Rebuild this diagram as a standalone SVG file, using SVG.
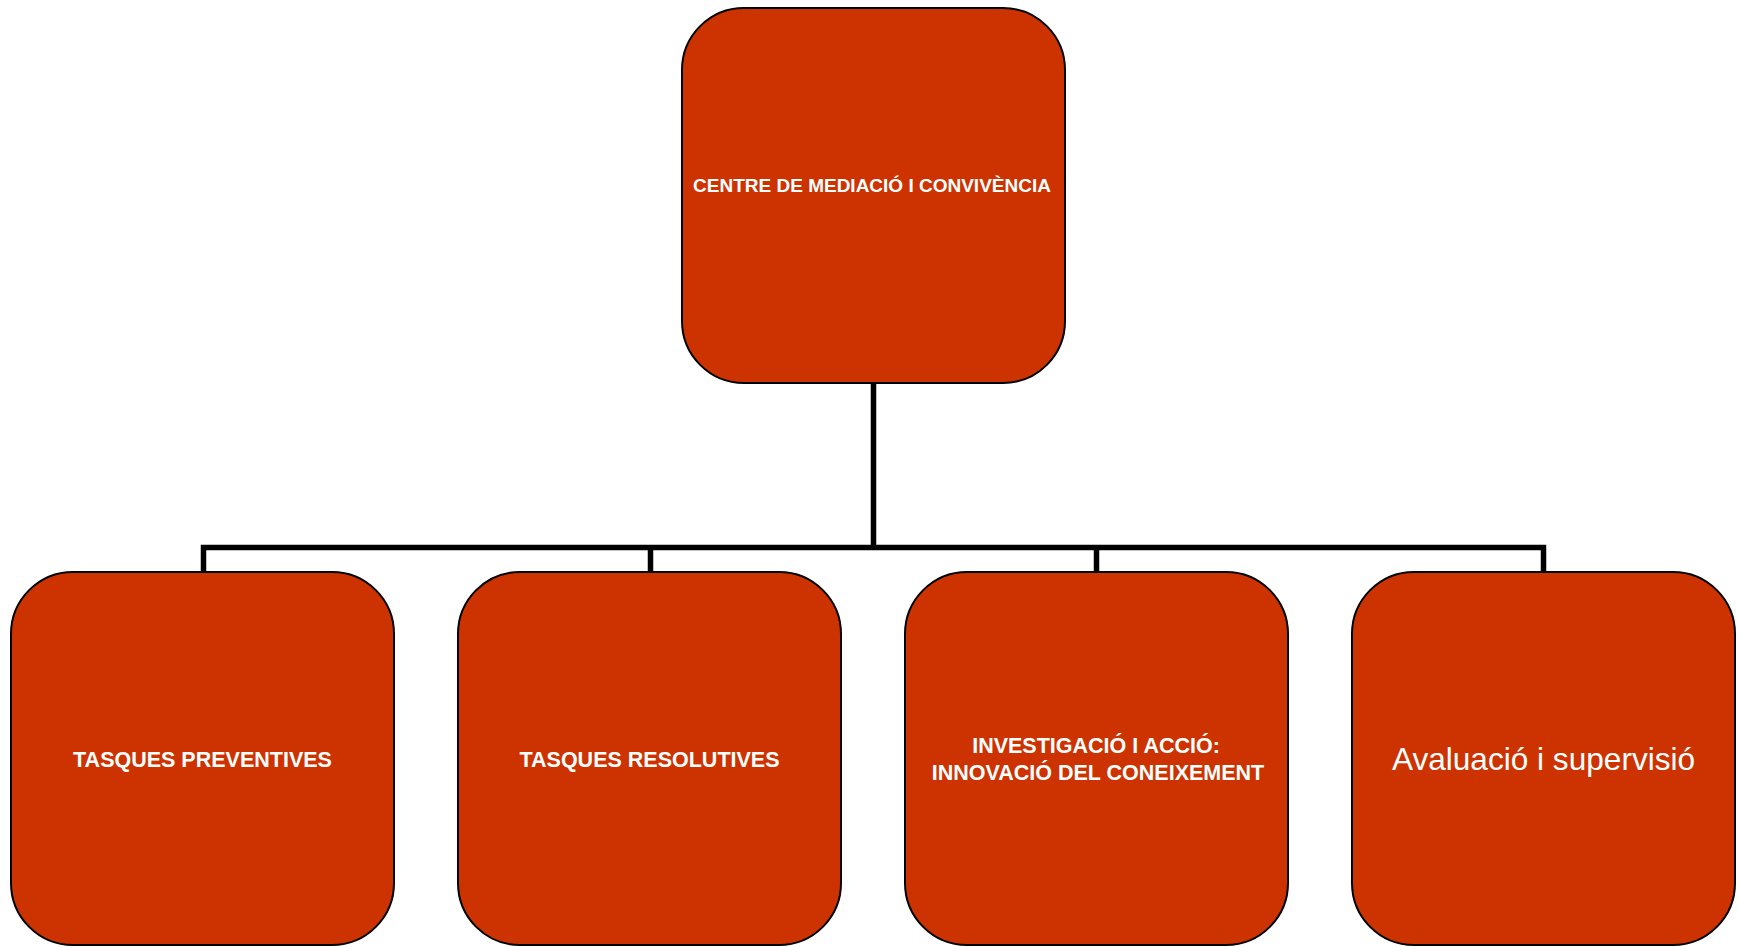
<svg xmlns="http://www.w3.org/2000/svg" width="1738" height="947" viewBox="0 0 1738 947">
<style>
.box{fill:#CC3300;stroke:#000;stroke-width:2}
.t{fill:#fff;font-family:"Liberation Sans",Arial,sans-serif;text-anchor:middle}
.b{font-weight:bold;font-size:21.5px}
.conn{fill:none;stroke:#000;stroke-width:5.5;stroke-linejoin:miter}
</style>
<rect width="1738" height="947" fill="#fff"/>
<g id="connectors">
<path class="conn" d="M873.5,383 V547.5"/>
<path class="conn" d="M203.5,572 V547.5 H1543.5 V572"/>
<path class="conn" d="M650.5,572 V547.5"/>
<path class="conn" d="M1096.5,572 V547.5"/>
</g>
<g id="root">
<rect class="box" x="682" y="8" width="383" height="375" rx="62" ry="62"/>
<text class="t" x="872" y="192" font-weight="bold" font-size="19">CENTRE DE MEDIACIÓ I CONVIVÈNCIA</text>
</g>
<g id="preventives">
<rect class="box" x="11" y="572" width="383" height="373" rx="62" ry="62"/>
<text class="t b" x="202.5" y="767">TASQUES PREVENTIVES</text>
</g>
<g id="resolutives">
<rect class="box" x="458" y="572" width="383" height="373" rx="62" ry="62"/>
<text class="t b" x="649.5" y="767">TASQUES RESOLUTIVES</text>
</g>
<g id="investigacio">
<rect class="box" x="905" y="572" width="383" height="373" rx="62" ry="62"/>
<text class="t b" x="1096" y="753">INVESTIGACIÓ I ACCIÓ:</text>
<text class="t b" x="1098" y="780">INNOVACIÓ DEL CONEIXEMENT</text>
</g>
<g id="avaluacio">
<rect class="box" x="1352" y="572" width="383" height="373" rx="62" ry="62"/>
<text class="t" x="1543.5" y="770" font-size="31.6">Avaluació i supervisió</text>
</g>
</svg>
